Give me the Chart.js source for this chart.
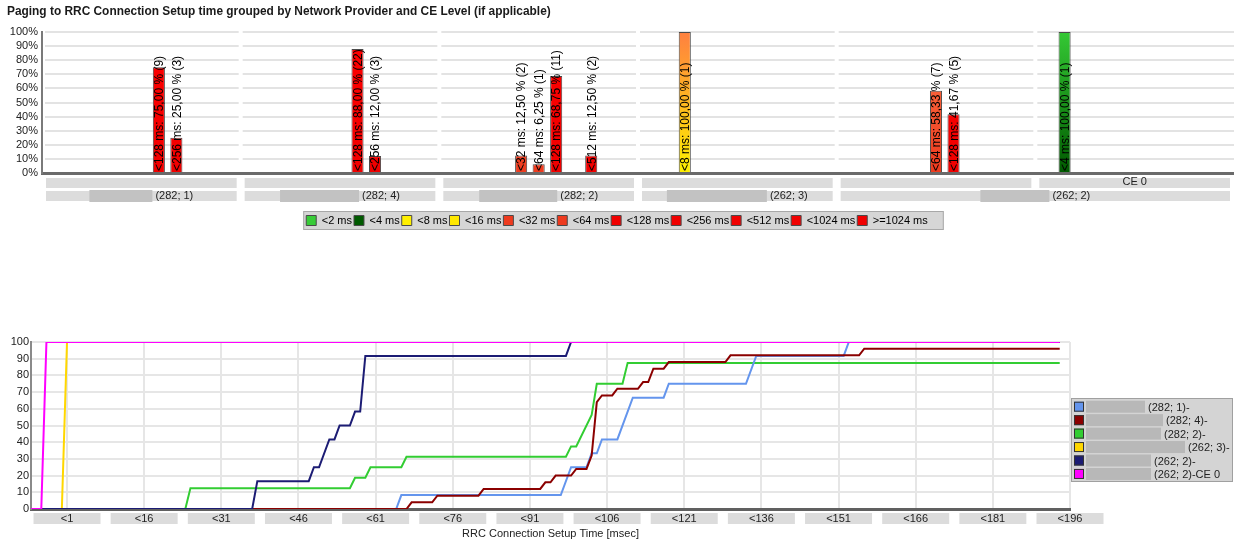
<!DOCTYPE html>
<html>
<head>
<meta charset="utf-8">
<script src="https://cdn.jsdelivr.net/npm/chart.js@4.4.0/dist/chart.umd.min.js"></script>
<style>
  html, body { margin: 0; padding: 0; background: #fff; width: 1234px; height: 545px; overflow: hidden; }
  #title { position: absolute; left: 7px; top: 4px; font: bold 11.9px "Liberation Sans", Arial, sans-serif; color: #1a1a1a; white-space: nowrap; }
  #topChart { position: absolute; left: 0; top: 0; }
  #cdfChart { position: absolute; left: 0; top: 330px; }
</style>
</head>
<body>
<canvas id="topChart" width="1234" height="244"></canvas>
<div id="title">Paging to RRC Connection Setup time grouped by Network Provider and CE Level (if applicable)</div>
<canvas id="cdfChart" width="1234" height="215"></canvas>
<script>
const FONT = '"Liberation Sans", Arial, sans-serif';

// ---- top chart: share per time bin, per provider group ----
const providers = ['(282; 1)', '(282; 4)', '(282; 2)', '(262; 3)', '(262; 2)', '(262; 2)'];
const ceLevels = ['', '', '', '', '', 'CE 0'];
const bins = ['<2 ms', '<4 ms', '<8 ms', '<16 ms', '<32 ms', '<64 ms', '<128 ms', '<256 ms', '<512 ms', '<1024 ms', '>=1024 ms'];

const share2    = [null, null, null, null, null, null];
const share4    = [null, null, null, null, null, 100];
const share8    = [null, null, null, 100, null, null];
const share16   = [null, null, null, null, null, null];
const share32   = [null, null, 12.5, null, null, null];
const share64   = [null, null, 6.25, null, 58.33, null];
const share128  = [75, 88, 68.75, null, 41.67, null];
const share256  = [25, 12, null, null, null, null];
const share512  = [null, null, 12.5, null, null, null];
const share1024 = [null, null, null, null, null, null];
const shareMax  = [null, null, null, null, null, null];

const count2    = [0, 0, 0, 0, 0, 0];
const count4    = [0, 0, 0, 0, 0, 1];
const count8    = [0, 0, 0, 1, 0, 0];
const count16   = [0, 0, 0, 0, 0, 0];
const count32   = [0, 0, 2, 0, 0, 0];
const count64   = [0, 0, 1, 0, 7, 0];
const count128  = [9, 22, 11, 0, 5, 0];
const count256  = [3, 3, 0, 0, 0, 0];
const count512  = [0, 0, 2, 0, 0, 0];
const count1024 = [0, 0, 0, 0, 0, 0];
const countMax  = [0, 0, 0, 0, 0, 0];

const binShares = [share2, share4, share8, share16, share32, share64, share128, share256, share512, share1024, shareMax];
const binCounts = [count2, count4, count8, count16, count32, count64, count128, count256, count512, count1024, countMax];

const binTop    = ['#38CC38', '#34C834', '#FF8040', '#FFA020', '#FF7A4A', '#FF7A4A', '#FF0000', '#FF0000', '#FF0000', '#FF0000', '#FF0000'];
const binBottom = ['#38CC38', '#005A00', '#FFF000', '#FFE800', '#EE3A1E', '#EE3A1E', '#F00000', '#F00000', '#F00000', '#F00000', '#F00000'];
const providerMask = [63, 79, 78, 100, 69, 69];

// ---- bottom chart: cumulative share over setup time ----
const tickValues = [1, 16, 31, 46, 61, 76, 91, 106, 121, 136, 151, 166, 181, 196];
const seriesNames = ['(282; 1)-', '(282; 4)-', '(282; 2)-', '(262; 3)-', '(262; 2)-', '(262; 2)-CE 0'];
const cdf282_1 = [[-6,0],[65,0],[66,8.33],[97,8.33],[99,25],[102,25],[103,33.33],[104,33.33],[105,41.67],[108,41.67],[111,66.67],[117,66.67],[118,75],[133,75],[135,91.67],[152,91.67],[153,100],[194,100]];
const cdf282_4 = [[-6,0],[67,0],[68,4],[72,4],[73,8],[81,8],[82,12],[93,12],[94,16],[95,16],[96,20],[99,20],[100,24],[102,24],[103,32],[104,64],[105,68],[107,68],[108,72],[112,72],[113,76],[114,76],[115,84],[117,84],[118,88],[129,88],[130,92],[155,92],[156,96],[194,96]];
const cdf282_2 = [[-6,0],[24,0],[25,12.5],[56,12.5],[57,18.75],[59,18.75],[60,25],[66,25],[67,31.25],[98,31.25],[99,37.5],[100,37.5],[103,56.25],[104,75],[109,75],[110,87.5],[194,87.5]];
const cdf262_3 = [[-6,0],[0,0],[1,100],[194,100]];
const cdf262_2 = [[-6,0],[37,0],[38,16.67],[48,16.67],[49,25],[50,25],[52,41.67],[53,41.67],[54,50],[56,50],[57,58.33],[58,58.33],[59,91.67],[98,91.67],[99,100],[194,100]];
const cdf262_2ce0 = [[-6,0],[-4,0],[-3,100],[194,100]];
const cdfSeries = [cdf282_1, cdf282_4, cdf282_2, cdf262_3, cdf262_2, cdf262_2ce0];
const lineColors = ['#6495ED', '#8B0000', '#32CD32', '#FFD700', '#1C1C74', '#FF00FF'];
const drawOrder = [4, 3, 5, 2, 1, 0];
const legendMask = [59, 77, 75, 99, 65, 65];

function binFill(ctx, i) {
  const area = ctx.chart.chartArea;
  if (!area || binTop[i] === binBottom[i]) return binTop[i];
  const g = ctx.chart.ctx.createLinearGradient(0, area.top, 0, area.bottom);
  g.addColorStop(0, binTop[i]);
  g.addColorStop(1, binBottom[i]);
  return g;
}

const groupGaps = {
  id: 'groupGaps',
  beforeDatasetsDraw(chart) {
    const {ctx, chartArea: a} = chart;
    const w = (a.right - a.left) / providers.length;
    ctx.save();
    ctx.fillStyle = '#fff';
    ctx.fillRect(a.left + 1, a.top - 2, 2, a.bottom - a.top);
    for (let i = 1; i < providers.length; i++) {
      ctx.fillRect(a.left + i * w - 2, a.top - 2, 4, a.bottom - a.top);
    }
    ctx.restore();
  }
};

const barText = {
  id: 'barText',
  afterDatasetsDraw(chart) {
    const ctx = chart.ctx;
    ctx.save();
    ctx.font = '12px ' + FONT;
    ctx.fillStyle = '#000';
    ctx.textAlign = 'left';
    ctx.textBaseline = 'middle';
    chart.data.datasets.forEach((ds, di) => {
      chart.getDatasetMeta(di).data.forEach((bar, i) => {
        const v = ds.data[i];
        if (v == null) return;
        ctx.save();
        ctx.translate(bar.x, chart.chartArea.bottom - 2);
        ctx.rotate(-Math.PI / 2);
        ctx.fillText(ds.label + ': ' + v.toFixed(2).replace('.', ',') + ' % (' + ds.counts[i] + ')', 0, 1);
        ctx.restore();
      });
    });
    ctx.restore();
  }
};

const groupLabels = {
  id: 'groupLabels',
  beforeDraw(chart) {
    const {ctx, chartArea: a} = chart;
    const w = (a.right - a.left) / providers.length;
    ctx.save();
    ctx.font = '11px ' + FONT;
    ctx.textBaseline = 'middle';
    ctx.textAlign = 'center';
    // CE level row
    for (let i = 0; i < providers.length; i++) {
      const x0 = a.left + i * w + 4, x1 = a.left + (i + 1) * w - 4;
      ctx.fillStyle = '#DCDCDC';
      ctx.fillRect(x0, a.bottom + 5, x1 - x0, 10);
      if (ceLevels[i]) {
        ctx.fillStyle = '#222';
        ctx.fillText(ceLevels[i], (x0 + x1) / 2, a.bottom + 9);
      }
    }
    // provider row, neighbours with the same provider share one box
    let i = 0;
    while (i < providers.length) {
      let j = i;
      while (j + 1 < providers.length && providers[j + 1] === providers[i]) j++;
      const x0 = a.left + i * w + 4, x1 = a.left + (j + 1) * w - 4;
      ctx.fillStyle = '#DCDCDC';
      ctx.fillRect(x0, a.bottom + 18, x1 - x0, 10);
      const tw = ctx.measureText(providers[i]).width;
      const total = providerMask[i] + 3 + tw;
      const sx = (x0 + x1) / 2 - total / 2;
      ctx.fillStyle = '#C2C2C2';
      ctx.fillRect(sx, a.bottom + 17, providerMask[i], 12);
      ctx.fillStyle = '#222';
      ctx.textAlign = 'left';
      ctx.fillText(providers[i], sx + providerMask[i] + 3, a.bottom + 23);
      ctx.textAlign = 'center';
      i = j + 1;
    }
    ctx.restore();
  }
};

const legendFrame = {
  id: 'legendFrame',
  beforeDraw(chart) {
    const boxes = chart.legend && chart.legend.legendHitBoxes;
    if (!boxes || !boxes.length) return;
    const left = Math.min(...boxes.map(b => b.left)) - 3;
    const right = Math.max(...boxes.map(b => b.left + b.width)) + 16;
    const top = boxes[0].top - 4;
    const bottom = boxes[0].top + boxes[0].height + 4;
    const ctx = chart.ctx;
    ctx.save();
    ctx.fillStyle = '#D6D6D6';
    ctx.fillRect(left, top, right - left, bottom - top);
    ctx.strokeStyle = '#A8A8A8';
    ctx.lineWidth = 1;
    ctx.strokeRect(left + 0.5, top + 0.5, right - left - 1, bottom - top - 1);
    ctx.restore();
  }
};

new Chart(document.getElementById('topChart'), {
  type: 'bar',
  data: {
    labels: providers,
    datasets: bins.map((b, i) => ({
      label: b,
      data: binShares[i],
      counts: binCounts[i],
      backgroundColor: ctx => binFill(ctx, i),
      borderColor: '#4A4A4A',
      borderWidth: 1,
      categoryPercentage: 0.97,
      barPercentage: 0.69
    }))
  },
  options: {
    responsive: false,
    animation: false,
    layout: { padding: { top: 32, right: 0, bottom: 8, left: 0 } },
    plugins: {
      legend: {
        position: 'bottom',
        labels: { boxWidth: 10, boxHeight: 10, padding: 2, color: '#000', font: { family: FONT, size: 11 } }
      },
      tooltip: { enabled: false }
    },
    scales: {
      x: {
        ticks: { display: false },
        grid: { display: false },
        border: { color: '#6A6A6A', width: 3 },
        afterFit: s => { s.height = 40; }
      },
      y: {
        min: 0, max: 100,
        ticks: { stepSize: 10, autoSkip: false, callback: v => v + '%', padding: 4, color: '#222', font: { family: FONT, size: 11 } },
        grid: { color: '#E3E3E3', lineWidth: 2, drawTicks: false },
        border: { color: '#7A7A7A', width: 2 },
        afterFit: s => { s.width = 42; }
      }
    }
  },
  plugins: [groupGaps, barText, groupLabels, legendFrame]
});

const tickBoxes = {
  id: 'tickBoxes',
  beforeDraw(chart) {
    const {ctx, chartArea: a} = chart;
    const x = chart.scales.x;
    ctx.save();
    ctx.fillStyle = '#DCDCDC';
    tickValues.forEach(v => {
      const px = x.getPixelForValue(v);
      ctx.fillRect(px - 33.5, a.bottom + 4, 67, 11);
    });
    ctx.restore();
  }
};

const sideLegend = {
  id: 'sideLegend',
  afterDraw(chart) {
    const ctx = chart.ctx;
    ctx.save();
    ctx.fillStyle = '#D4D4D4';
    ctx.fillRect(1071, 68, 162, 84);
    ctx.strokeStyle = '#A0A0A0';
    ctx.lineWidth = 1;
    ctx.strokeRect(1071.5, 68.5, 161, 83);
    ctx.font = '11px ' + FONT;
    ctx.textBaseline = 'middle';
    ctx.textAlign = 'left';
    chart.data.datasets.forEach((ds, i) => {
      const cy = 76.7 + i * 13.45;
      ctx.fillStyle = ds.borderColor;
      ctx.fillRect(1074, cy - 5, 10, 10);
      ctx.strokeStyle = '#333';
      ctx.strokeRect(1074.5, cy - 4.5, 9, 9);
      ctx.fillStyle = '#B8B8B8';
      ctx.fillRect(1086, cy - 6, legendMask[i], 12);
      ctx.fillStyle = '#222';
      ctx.fillText(ds.label, 1089 + legendMask[i], cy + 1);
    });
    ctx.restore();
  }
};

new Chart(document.getElementById('cdfChart'), {
  type: 'line',
  data: {
    datasets: cdfSeries.map((pts, i) => ({
      label: seriesNames[i],
      data: pts.map(p => ({ x: p[0], y: p[1] })),
      borderColor: lineColors[i],
      backgroundColor: lineColors[i],
      borderWidth: 2,
      pointRadius: 0,
      tension: 0,
      order: drawOrder[i]
    }))
  },
  options: {
    responsive: false,
    animation: false,
    layout: { padding: { top: 12, right: 164, bottom: 4, left: 0 } },
    plugins: { legend: { display: false }, tooltip: { enabled: false } },
    scales: {
      x: {
        type: 'linear', min: -6, max: 196,
        afterBuildTicks: s => { s.ticks = tickValues.map(v => ({ value: v })); },
        ticks: { callback: v => '<' + v, padding: 3, autoSkip: false, maxRotation: 0, color: '#222', font: { family: FONT, size: 11 } },
        grid: { color: '#E6E6E6', lineWidth: 2, drawTicks: false },
        border: { color: '#606060', width: 3 },
        title: { display: true, text: 'RRC Connection Setup Time [msec]', color: '#222', font: { family: FONT, size: 11 }, padding: { top: 2, bottom: 0 } },
        afterFit: s => { s.height = 32; }
      },
      y: {
        min: 0, max: 100,
        ticks: { stepSize: 10, autoSkip: false, padding: 2, color: '#222', font: { family: FONT, size: 11 } },
        grid: { color: '#E6E6E6', lineWidth: 2, drawTicks: false },
        border: { color: '#8A8A8A', width: 2 },
        afterFit: s => { s.width = 31; }
      }
    }
  },
  plugins: [tickBoxes, sideLegend]
});
</script>
</body>
</html>
